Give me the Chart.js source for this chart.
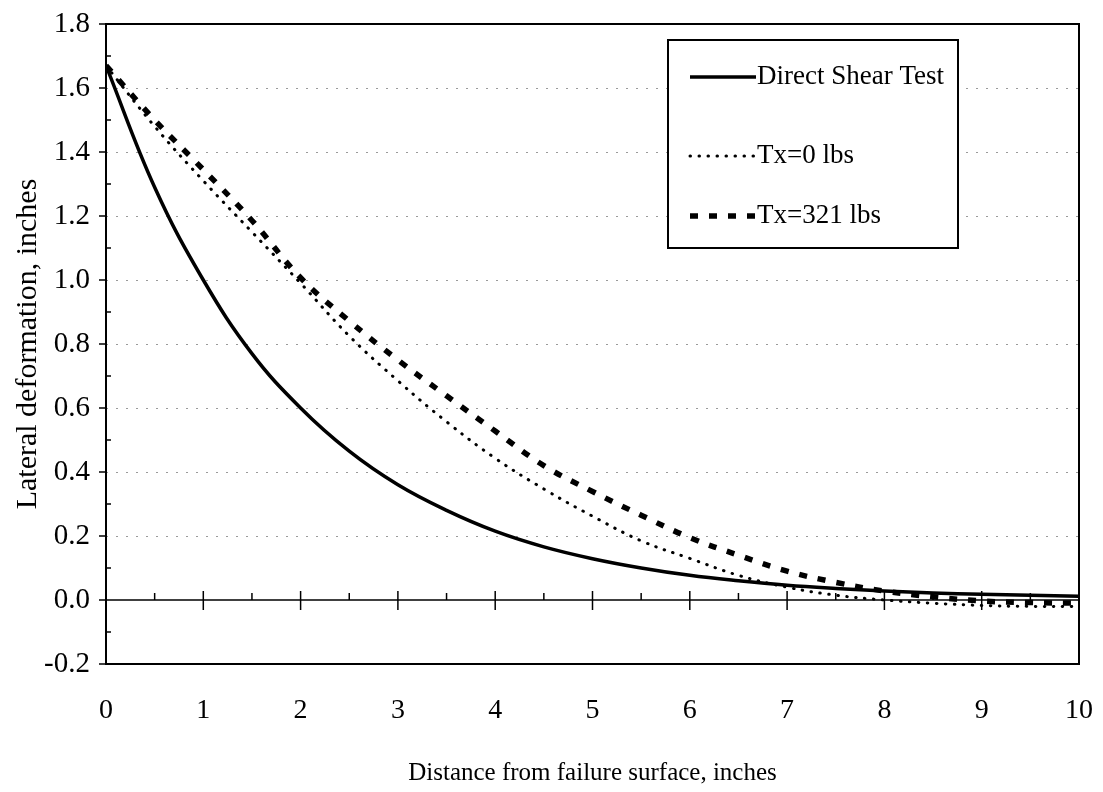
<!DOCTYPE html>
<html>
<head>
<meta charset="utf-8">
<script src="https://cdn.jsdelivr.net/npm/chart.js@4.4.1/dist/chart.umd.min.js"></script>
<style>
  html, body { margin: 0; padding: 0; background: #fff; }
  #wrap { width: 1103px; height: 792px; }
</style>
</head>
<body>
<div id="wrap"><canvas id="graph" width="1103" height="792"></canvas></div>
<script>
// distance from failure surface (inches)
const distance = [0, 0.5, 1, 1.5, 2, 2.5, 3, 3.5, 4, 4.5, 5, 5.5, 6, 6.5, 7, 7.5, 8, 8.5, 9, 9.5, 10];
// lateral deformation (inches)
const directShear = [1.67, 1.29, 1.00, 0.77, 0.60, 0.465, 0.36, 0.28, 0.215, 0.166, 0.129, 0.100, 0.077, 0.060, 0.046, 0.036, 0.028, 0.022, 0.018, 0.015, 0.012];
const tx0 = [1.67, 1.48, 1.31, 1.15, 0.99, 0.825, 0.685, 0.557, 0.443, 0.347, 0.262, 0.185, 0.13, 0.077, 0.04, 0.015, 0.0, -0.01, -0.017, -0.02, -0.02];
const tx321 = [1.67, 1.50, 1.345, 1.186, 1.007, 0.872, 0.75, 0.638, 0.528, 0.42, 0.339, 0.265, 0.195, 0.14, 0.09, 0.055, 0.028, 0.01, -0.003, -0.008, -0.01];

const seriesLabels = ['Direct Shear Test', 'Tx=0 lbs', 'Tx=321 lbs'];
const xTitle = 'Distance from failure surface, inches';
const yTitle = 'Lateral deformation, inches';

const serif = "'Liberation Serif', 'Times New Roman', serif";

const toPoints = (ys) => distance.map((x, i) => ({ x: x, y: ys[i] }));

// frame, zero line, tick marks, dotted grid
const axesPlugin = {
    id: 'axesDecor',
    beforeDatasetsDraw(chart) {
        const { ctx, chartArea: a, scales: { x, y } } = chart;
        ctx.save();
        // dotted grid on the inner major y ticks
        ctx.strokeStyle = '#9a9a9a';
        ctx.lineWidth = 1;
        ctx.setLineDash([2, 8]);
        y.ticks.forEach(t => {
            if (t.value > 0.05 && t.value < 1.75) {
                const py = Math.round(y.getPixelForValue(t.value)) + 0.5;
                ctx.beginPath();
                ctx.moveTo(a.left, py);
                ctx.lineTo(a.right, py);
                ctx.stroke();
            }
        });
        ctx.setLineDash([]);
        // zero line
        const y0 = y.getPixelForValue(0);
        ctx.strokeStyle = '#000';
        ctx.lineWidth = 1.5;
        ctx.beginPath();
        ctx.moveTo(a.left, y0);
        ctx.lineTo(a.right, y0);
        ctx.stroke();
        // x tick marks on the zero line
        x.ticks.forEach(t => {
            const px = x.getPixelForValue(t.value);
            if (t.value > 0 && t.value < 10) {
                ctx.beginPath();
                ctx.moveTo(px, y0 - 9);
                ctx.lineTo(px, y0 + 10);
                ctx.stroke();
            }
            const half = t.value + 0.5;
            if (half < 10) {
                const ph = x.getPixelForValue(half);
                ctx.beginPath();
                ctx.moveTo(ph, y0 - 7);
                ctx.lineTo(ph, y0);
                ctx.stroke();
            }
        });
        // y tick marks
        y.ticks.forEach((t, i) => {
            const py = y.getPixelForValue(t.value);
            ctx.beginPath();
            ctx.moveTo(a.left - 7, py);
            ctx.lineTo(a.left, py);
            ctx.stroke();
            if (i + 1 < y.ticks.length) {
                const pm = y.getPixelForValue((t.value + y.ticks[i + 1].value) / 2);
                ctx.beginPath();
                ctx.moveTo(a.left, pm);
                ctx.lineTo(a.left + 5, pm);
                ctx.stroke();
            }
        });
        ctx.restore();
    },
    afterDatasetsDraw(chart) {
        const { ctx, chartArea: a } = chart;
        ctx.save();
        ctx.strokeStyle = '#000';
        ctx.lineWidth = 2;
        ctx.strokeRect(a.left, a.top, a.right - a.left, a.bottom - a.top);
        ctx.restore();
    }
};

// boxed legend inside the plot, upper right
const legendBox = { left: 668, top: 40, width: 290, height: 208, rows: [77, 156, 216], lineX0: 690, lineX1: 756, textX: 757 };
const legendPlugin = {
    id: 'boxLegend',
    afterDraw(chart) {
        const { ctx } = chart;
        const L = legendBox;
        ctx.save();
        ctx.fillStyle = '#fff';
        ctx.fillRect(L.left, L.top, L.width, L.height);
        ctx.strokeStyle = '#000';
        ctx.lineWidth = 2;
        ctx.strokeRect(L.left, L.top, L.width, L.height);
        chart.data.datasets.forEach((ds, i) => {
            const ry = L.rows[i];
            ctx.strokeStyle = ds.borderColor;
            ctx.lineWidth = ds.borderWidth;
            ctx.lineCap = ds.borderCapStyle || 'butt';
            ctx.setLineDash(ds.borderDash || []);
            ctx.beginPath();
            ctx.moveTo(L.lineX0, ry);
            ctx.lineTo(L.lineX1, ry);
            ctx.stroke();
            ctx.setLineDash([]);
            ctx.fillStyle = '#000';
            ctx.font = '27px ' + serif;
            ctx.textBaseline = 'middle';
            ctx.textAlign = 'left';
            ctx.fillText(ds.label, L.textX, ry);
        });
        ctx.restore();
    }
};

const ctx = document.getElementById('graph').getContext('2d');
const chart = new Chart(ctx, {
    type: 'line',
    data: {
        datasets: [
            {
                label: seriesLabels[0],
                data: toPoints(directShear),
                borderColor: '#000',
                borderWidth: 3.5,
                pointRadius: 0,
                tension: 0.4,
            },
            {
                label: seriesLabels[1],
                data: toPoints(tx0),
                borderColor: '#000',
                borderWidth: 3,
                borderDash: [0.5, 8.5],
                borderCapStyle: 'round',
                pointRadius: 0,
                tension: 0.4,
            },
            {
                label: seriesLabels[2],
                data: toPoints(tx321),
                borderColor: '#000',
                borderWidth: 5.5,
                borderDash: [8, 11],
                pointRadius: 0,
                tension: 0.4,
            },
        ]
    },
    options: {
        responsive: false,
        animation: false,
        layout: { padding: { top: 24, right: 24, left: 0, bottom: 0 } },
        plugins: {
            legend: { display: false },
            tooltip: { enabled: false },
        },
        scales: {
            x: {
                type: 'linear',
                min: 0,
                max: 10,
                ticks: {
                    stepSize: 1,
                    padding: 30,
                    color: '#000',
                    font: { family: serif, size: 28 },
                },
                grid: { display: false, drawTicks: false },
                border: { display: false },
                title: {
                    display: true,
                    text: xTitle,
                    color: '#000',
                    font: { family: serif, size: 25 },
                    padding: { top: 0, bottom: 4 },
                },
                afterFit: (scale) => {
                    scale.height = 128;
                    scale.paddingLeft = 0;
                    scale.paddingRight = 0;
                },
            },
            y: {
                min: -0.2,
                max: 1.8,
                ticks: {
                    stepSize: 0.2,
                    padding: 16,
                    color: '#000',
                    font: { family: serif, size: 29 },
                    callback: (v) => v.toFixed(1),
                },
                grid: { display: false, drawTicks: false },
                border: { display: false },
                title: {
                    display: true,
                    text: yTitle,
                    color: '#000',
                    font: { family: serif, size: 30 },
                    padding: { top: 10, bottom: 0 },
                },
                afterFit: (scale) => {
                    scale.width = 106;
                    scale.paddingTop = 0;
                    scale.paddingBottom = 0;
                },
            },
        },
    },
    plugins: [axesPlugin, legendPlugin],
});
</script>
</body>
</html>
